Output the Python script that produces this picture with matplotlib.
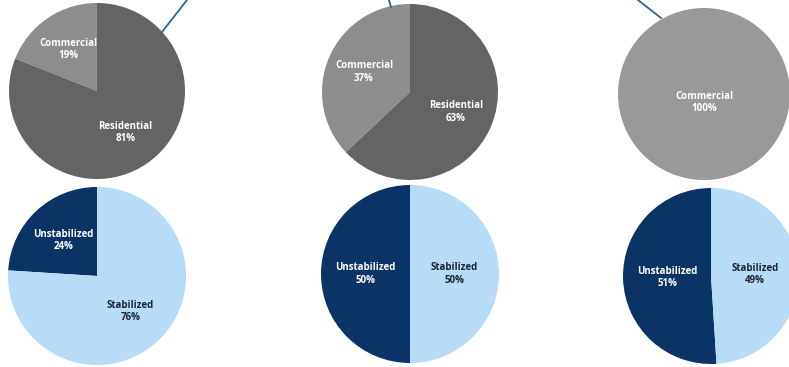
import matplotlib
matplotlib.use("Agg")
import matplotlib.pyplot as plt
from matplotlib.lines import Line2D

# property type mix (top row)
type_labels = ["Commercial", "Residential"]
type_shares = [
    [19, 81],
    [37, 63],
    [100, 0],
]

# stabilization mix (bottom row)
stab_labels = ["Unstabilized", "Stabilized"]
stab_shares = [
    [24, 76],
    [50, 50],
    [51, 49],
]

W, H = 789, 367
fig = plt.figure(figsize=(W / 100, H / 100), dpi=100)
fig.patch.set_facecolor("white")

# pie centers and radii in pixels (x, y from top, r)
top_geom = [(97, 91, 88), (410, 92, 88), (704, 94, 86)]
bot_geom = [(97, 276, 89), (410, 274, 89), (711, 276, 88)]

grey_colors = ["#8d8d8d", "#646464"]
blue_colors = ["#0a3466", "#b6dcf8"]


def pie_axes(cx, cy, r):
    return fig.add_axes([(cx - r) / W, (H - cy - r) / H, 2 * r / W, 2 * r / H])


def draw_pie(ax, labels, shares, colors, text_colors, dist, fill=None):
    keep = [i for i, s in enumerate(shares) if s > 0]
    vals = [shares[i] for i in keep]
    labs = [f"{labels[i]}\n{shares[i]}%" for i in keep]
    cols = [fill or colors[i] for i in keep]
    wedges, texts = ax.pie(vals, labels=labs, colors=cols, startangle=90,
                           counterclock=True, labeldistance=dist,
                           wedgeprops=dict(linewidth=0),
                           textprops=dict(fontsize=7, fontweight="bold",
                                          family=["Open Sans", "DejaVu Sans"]))
    for t, i in zip(texts, keep):
        t.set_ha("center")
        t.set_va("center")
        t.set_color(text_colors[i])
        t.set_linespacing(1.15)
    ax.set_xlim(-1, 1)
    ax.set_ylim(-1, 1)


for k, (cx, cy, r) in enumerate(top_geom):
    ax = pie_axes(cx, cy, r)
    if min(type_shares[k]) == 0:
        draw_pie(ax, type_labels, type_shares[k], grey_colors, ["white", "white"], 0.1, fill="#999999")
    else:
        draw_pie(ax, type_labels, type_shares[k], grey_colors, ["white", "white"], 0.57)

for k, (cx, cy, r) in enumerate(bot_geom):
    ax = pie_axes(cx, cy, r)
    dist = 0.55 if k == 0 else 0.5
    draw_pie(ax, stab_labels, stab_shares[k], blue_colors, ["white", "#1e2633"], dist)

# leader lines running off the top edge
leaders = [((187, 0), (162, 32)), ((389, 0), (391, 7)), ((638, 0), (661, 18))]
for (x0, y0), (x1, y1) in leaders:
    fig.add_artist(Line2D([x0 / W, x1 / W], [1 - y0 / H, 1 - y1 / H],
                          transform=fig.transFigure, color="#2f6496", lw=1.3))

fig.savefig("out.png", dpi=100)
